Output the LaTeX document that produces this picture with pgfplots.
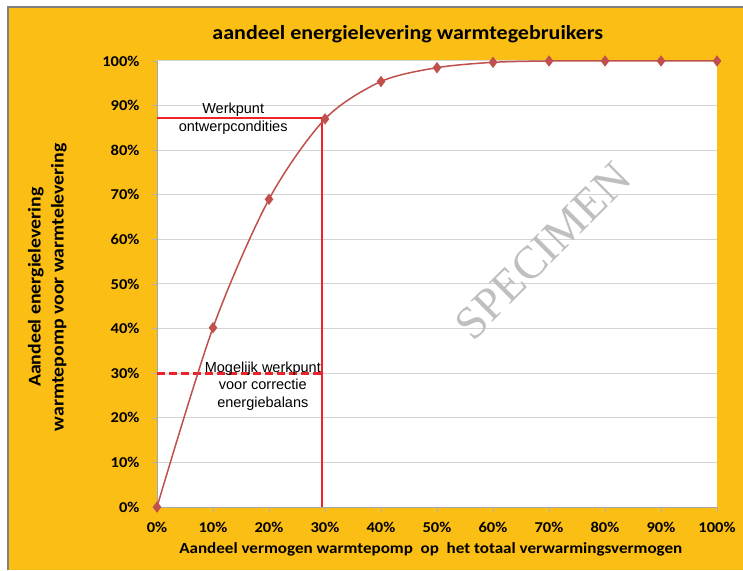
\documentclass[border=0pt]{standalone}
\usepackage{fontspec}
\setmainfont{Carlito}[FakeStretch=1.1]
\newfontfamily\arialfont{Liberation Sans}
\newfontfamily\timesfont{Liberation Serif}
\usepackage{pgfplots}
\pgfplotsset{compat=1.18}
\definecolor{bgorange}{HTML}{FBBE14}
\definecolor{seriesred}{HTML}{C0504D}
\definecolor{gridgray}{HTML}{D4D4D4}
\definecolor{guidered}{HTML}{EE2229}
\begin{document}
\begin{tikzpicture}
\useasboundingbox (0,0) rectangle (743pt,570pt);
\fill[white] (0,0) rectangle (743pt,570pt);
\fill[bgorange] (8pt,0) rectangle (743pt,563pt);
\draw[gray, line width=1.2pt] (8pt,0) -- (8pt,563pt) -- (743pt,563pt);
\begin{axis}[
  at={(157pt,63pt)}, anchor=south west,
  scale only axis, width=560pt, height=446pt,
  xmin=0, xmax=100, ymin=0, ymax=100,
  clip=false,
  axis background/.style={fill=white},
  axis x line*=bottom, axis y line*=left,
  axis line style={draw=gray!70, line width=0.6pt, -},
  xtick={0,10,...,100}, ytick={0,10,...,100},
  xticklabels={0\%,10\%,20\%,30\%,40\%,50\%,60\%,70\%,80\%,90\%,100\%},
  yticklabels={0\%,10\%,20\%,30\%,40\%,50\%,60\%,70\%,80\%,90\%,100\%},
  /pgf/number format/assume math mode=true,
  tick align=outside, major tick length=5pt,
  tick style={draw=gray!60, line width=0.6pt},
  ymajorgrids, grid style={draw=gridgray, line width=1pt},
  ticklabel style={font=\bfseries\fontsize{15}{17}\selectfont},
  xticklabel style={anchor=north, yshift=-7pt},
  yticklabel style={anchor=east, xshift=-9pt},
  title={aandeel energielevering warmtegebruikers},
  title style={font=\bfseries\fontsize{20}{23}\selectfont, at={(axis description cs:0.448,1.047)}, anchor=center, yshift=0pt},
  xlabel={Aandeel vermogen warmtepomp\ \ op\ \ het totaal verwarmingsvermogen},
  xlabel style={font=\bfseries\fontsize{15.5}{17}\selectfont, at={(axis description cs:0.489,-0.094)}, anchor=center},
  ylabel={Aandeel energielevering\\warmtepomp voor warmtelevering},
  ylabel style={font=\bfseries\fontsize{18}{23}\selectfont, align=center, at={(axis description cs:-0.196,0.493)}, anchor=center, rotate=0},
]
% guide lines for the operating points
\addplot[guidered, line width=2pt] coordinates {(0,87.3) (29.4,87.3) (29.4,0)};
\addplot[guidered, line width=3pt, dash pattern=on 8pt off 4pt] coordinates {(0,30) (29.4,30)};
% share of energy delivered by the heat pump
\addplot[seriesred, line width=1.5pt, smooth, mark=diamond*, mark size=4.5pt,
  mark options={solid, fill=seriesred, draw=seriesred}] coordinates {
  (0,0) (10,40.2) (20,69) (30,87) (40,95.4) (50,98.5)
  (60,99.7) (70,100) (80,100) (90,100) (100,100)};
\node[font=\arialfont\fontsize{14.5}{18}\selectfont, align=center] at (axis cs:13.6,87.0) {Werkpunt\\ontwerpcondities};
\node[font=\arialfont\fontsize{14.5}{17.5}\selectfont, align=center] at (axis cs:18.9,27.1) {Mogelijk werkpunt\\voor correctie\\energiebalans};
\node[font=\timesfont\fontsize{46}{46}\selectfont, text=gray!50, rotate=45] at (axis cs:68.9,57.4) {SPECIMEN};
\end{axis}
\end{tikzpicture}
\end{document}
